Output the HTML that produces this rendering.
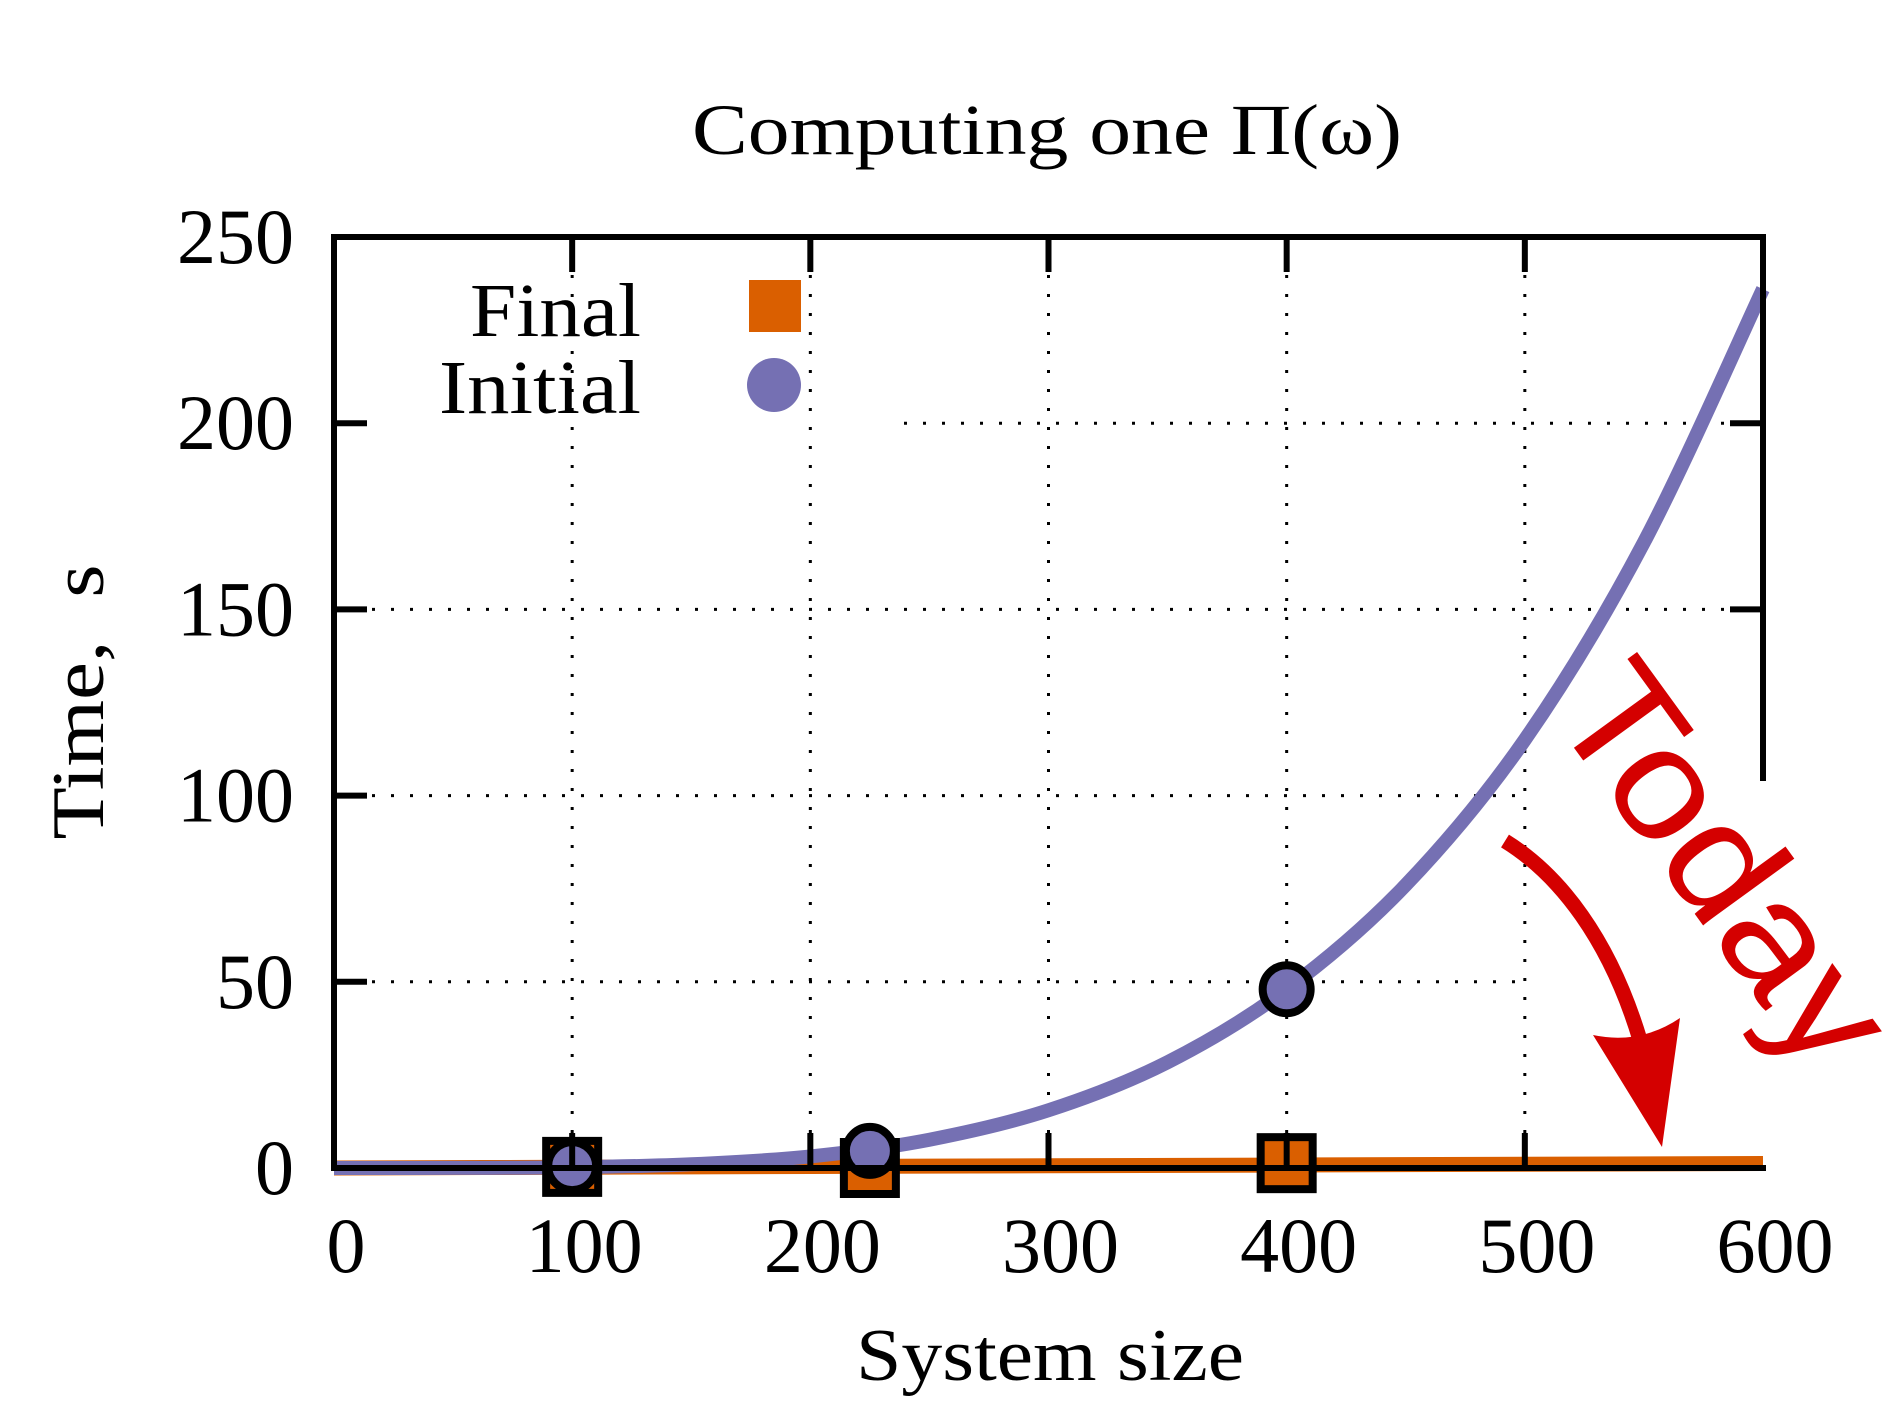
<!DOCTYPE html>
<html><head><meta charset="utf-8"><style>
html,body{margin:0;padding:0;background:#fff;}
svg{display:block;font-family:"Liberation Serif",serif;}
</style></head><body>
<svg id="chart" width="1902" height="1417" viewBox="0 0 1902 1417" xmlns="http://www.w3.org/2000/svg">
<rect width="1902" height="1417" fill="#fff"/>
<g id="grid"></g>
<g id="series"></g>
<g id="frame"></g>
<g id="labels"></g>
<text x="1047" y="154" font-size="72" text-anchor="middle" textLength="710" lengthAdjust="spacingAndGlyphs">Computing one Π(ω)</text>
<text x="1050" y="1380" font-size="74" text-anchor="middle" textLength="388" lengthAdjust="spacingAndGlyphs">System size</text>
<text transform="translate(103,702) rotate(-90)" font-size="74" text-anchor="middle" textLength="275" lengthAdjust="spacingAndGlyphs" xml:space="preserve">Time,  s</text>
<g>
<text x="641" y="336" font-size="76" text-anchor="end" textLength="171" lengthAdjust="spacingAndGlyphs">Final</text>
<rect x="749" y="280" width="52" height="52" fill="#da5f00"/>
<text x="641" y="413" font-size="76" text-anchor="end" textLength="202" lengthAdjust="spacingAndGlyphs">Initial</text>
<circle cx="774" cy="385" r="27" fill="#7570b3"/>
</g>
<g>
<path d="M1505,841 C1560,875 1610,940 1640,1040" fill="none" stroke="#d40000" stroke-width="15"/>
<path d="M1593,1035 Q1640,1045 1680,1018 L1662,1147 Z" fill="#d40000"/>
<text transform="translate(1548,712) rotate(54)" font-family="Liberation Sans, sans-serif" font-size="156" fill="#d40000" textLength="455" lengthAdjust="spacingAndGlyphs">Today</text>
</g>
</svg>
<script>
const xTicks = [0, 100, 200, 300, 400, 500, 600];
const yTicks = [0, 50, 100, 150, 200, 250];
const curveX = [0, 50, 100, 150, 200, 250, 300, 350, 400, 450, 500, 550, 600];
const initialCurve = [0, 0.02, 0.2, 1.0, 3.1, 7.6, 15.5, 28.4, 48, 76, 115, 168, 236];
const finalCurveX = [0, 100, 200, 300, 400, 500, 600];
const finalCurve = [0, 0.2, 0.4, 0.6, 0.8, 1.0, 1.2];
const pointX = [100, 225, 400];
const initialPoints = [0.5, 4.6, 48];
const finalPoints = [0.3, 0, 1.3];

const X0 = 334, X1 = 1763, Y0 = 1168, Y1 = 237;
const sx = v => X0 + (v - 0) / 600 * (X1 - X0);
const sy = v => Y0 - (v - 0) / 250 * (Y0 - Y1);
const NS = 'http://www.w3.org/2000/svg';
function mk(tag, attrs, parent) {
  const e = document.createElementNS(NS, tag);
  for (const k in attrs) e.setAttribute(k, attrs[k]);
  parent.appendChild(e);
  return e;
}
function smoothPath(xs, ys) {
  const p = xs.map((x, i) => [sx(x), sy(ys[i])]);
  let d = 'M' + p[0][0] + ',' + p[0][1];
  for (let i = 0; i < p.length - 1; i++) {
    const p0 = p[Math.max(0, i - 1)], p1 = p[i], p2 = p[i + 1], p3 = p[Math.min(p.length - 1, i + 2)];
    const c1x = p1[0] + (p2[0] - p0[0]) / 6, c1y = p1[1] + (p2[1] - p0[1]) / 6;
    const c2x = p2[0] - (p3[0] - p1[0]) / 6, c2y = p2[1] - (p3[1] - p1[1]) / 6;
    d += ' C' + c1x + ',' + c1y + ' ' + c2x + ',' + c2y + ' ' + p2[0] + ',' + p2[1];
  }
  return d;
}
const grid = document.getElementById('grid');
const series = document.getElementById('series');
const frame = document.getElementById('frame');
const labels = document.getElementById('labels');
const dots = {stroke: '#000', 'stroke-width': 3, 'stroke-dasharray': '3 16', 'stroke-linecap': 'butt'};

xTicks.forEach(t => {
  if (t === 0 || t === 600) return;
  const g = mk('line', Object.assign({x1: sx(t), x2: sx(t), y1: Y1, y2: Y0}, dots), grid);
  
  
});
yTicks.forEach(t => {
  if (t === 0 || t === 250) return;
  let xa = X0, xb = X1;
  if (t === 200) xa = 904;
  if (t === 50 || t === 100) xb = sx(500);
  const g = mk('line', Object.assign({x1: xa, x2: xb, y1: sy(t), y2: sy(t)}, dots), grid);
  
  
});

const fl = mk('path', {d: smoothPath(finalCurveX, finalCurve), fill: 'none', stroke: '#da5f00', 'stroke-width': 15}, series);


const il = mk('path', {d: smoothPath(curveX, initialCurve), fill: 'none', stroke: '#7570b3', 'stroke-width': 14, 'stroke-linejoin': 'round'}, series);



pointX.forEach((x, i) => {
  const r = mk('rect', {x: sx(x) - 26, y: sy(finalPoints[i]) - 26, width: 52, height: 52, fill: '#da5f00', stroke: '#000', 'stroke-width': 8}, series);
  
  
});
pointX.forEach((x, i) => {
  const c = mk('circle', {cx: sx(x), cy: sy(initialPoints[i]), r: 24, fill: '#7570b3', stroke: '#000', 'stroke-width': 8}, series);
  
  
});

const fs = {stroke: '#000', 'stroke-width': 6, 'stroke-linecap': 'square'};
[[X0, Y1, X1, Y1, 'top-border'], [X0, Y0, X1, Y0, 'bottom-border'], [X0, Y1, X0, Y0, 'left-border'], [X1, Y1, X1, 778, 'right-border']].forEach(b => {
  const l = mk('line', Object.assign({x1: b[0], y1: b[1], x2: b[2], y2: b[3]}, fs), frame);
  
  
});
xTicks.forEach(t => {
  if (t === 0 || t === 600) return;
  const a = mk('line', Object.assign({x1: sx(t), x2: sx(t), y1: Y1, y2: Y1 + 32}, fs), frame);
  
  
  const b = mk('line', Object.assign({x1: sx(t), x2: sx(t), y1: Y0, y2: Y0 - 32}, fs), frame);
  
  
});
yTicks.forEach(t => {
  if (t === 0 || t === 250) return;
  const a = mk('line', Object.assign({x1: X0, x2: X0 + 30, y1: sy(t), y2: sy(t)}, fs), frame);
  
  
  if (sy(t) < 778) {
    const b = mk('line', Object.assign({x1: X1, x2: X1 - 30, y1: sy(t), y2: sy(t)}, fs), frame);
    
    
  }
});
xTicks.forEach(t => {
  const tx = mk('text', {x: sx(t) + 12, y: 1272, 'font-size': 78, 'text-anchor': 'middle'}, labels);
  tx.textContent = String(t);
  
  
});
yTicks.forEach(t => {
  const tx = mk('text', {x: 294, y: sy(t) + 26, 'font-size': 78, 'text-anchor': 'end'}, labels);
  tx.textContent = String(t);
  
  
});
</script>
</body></html>
